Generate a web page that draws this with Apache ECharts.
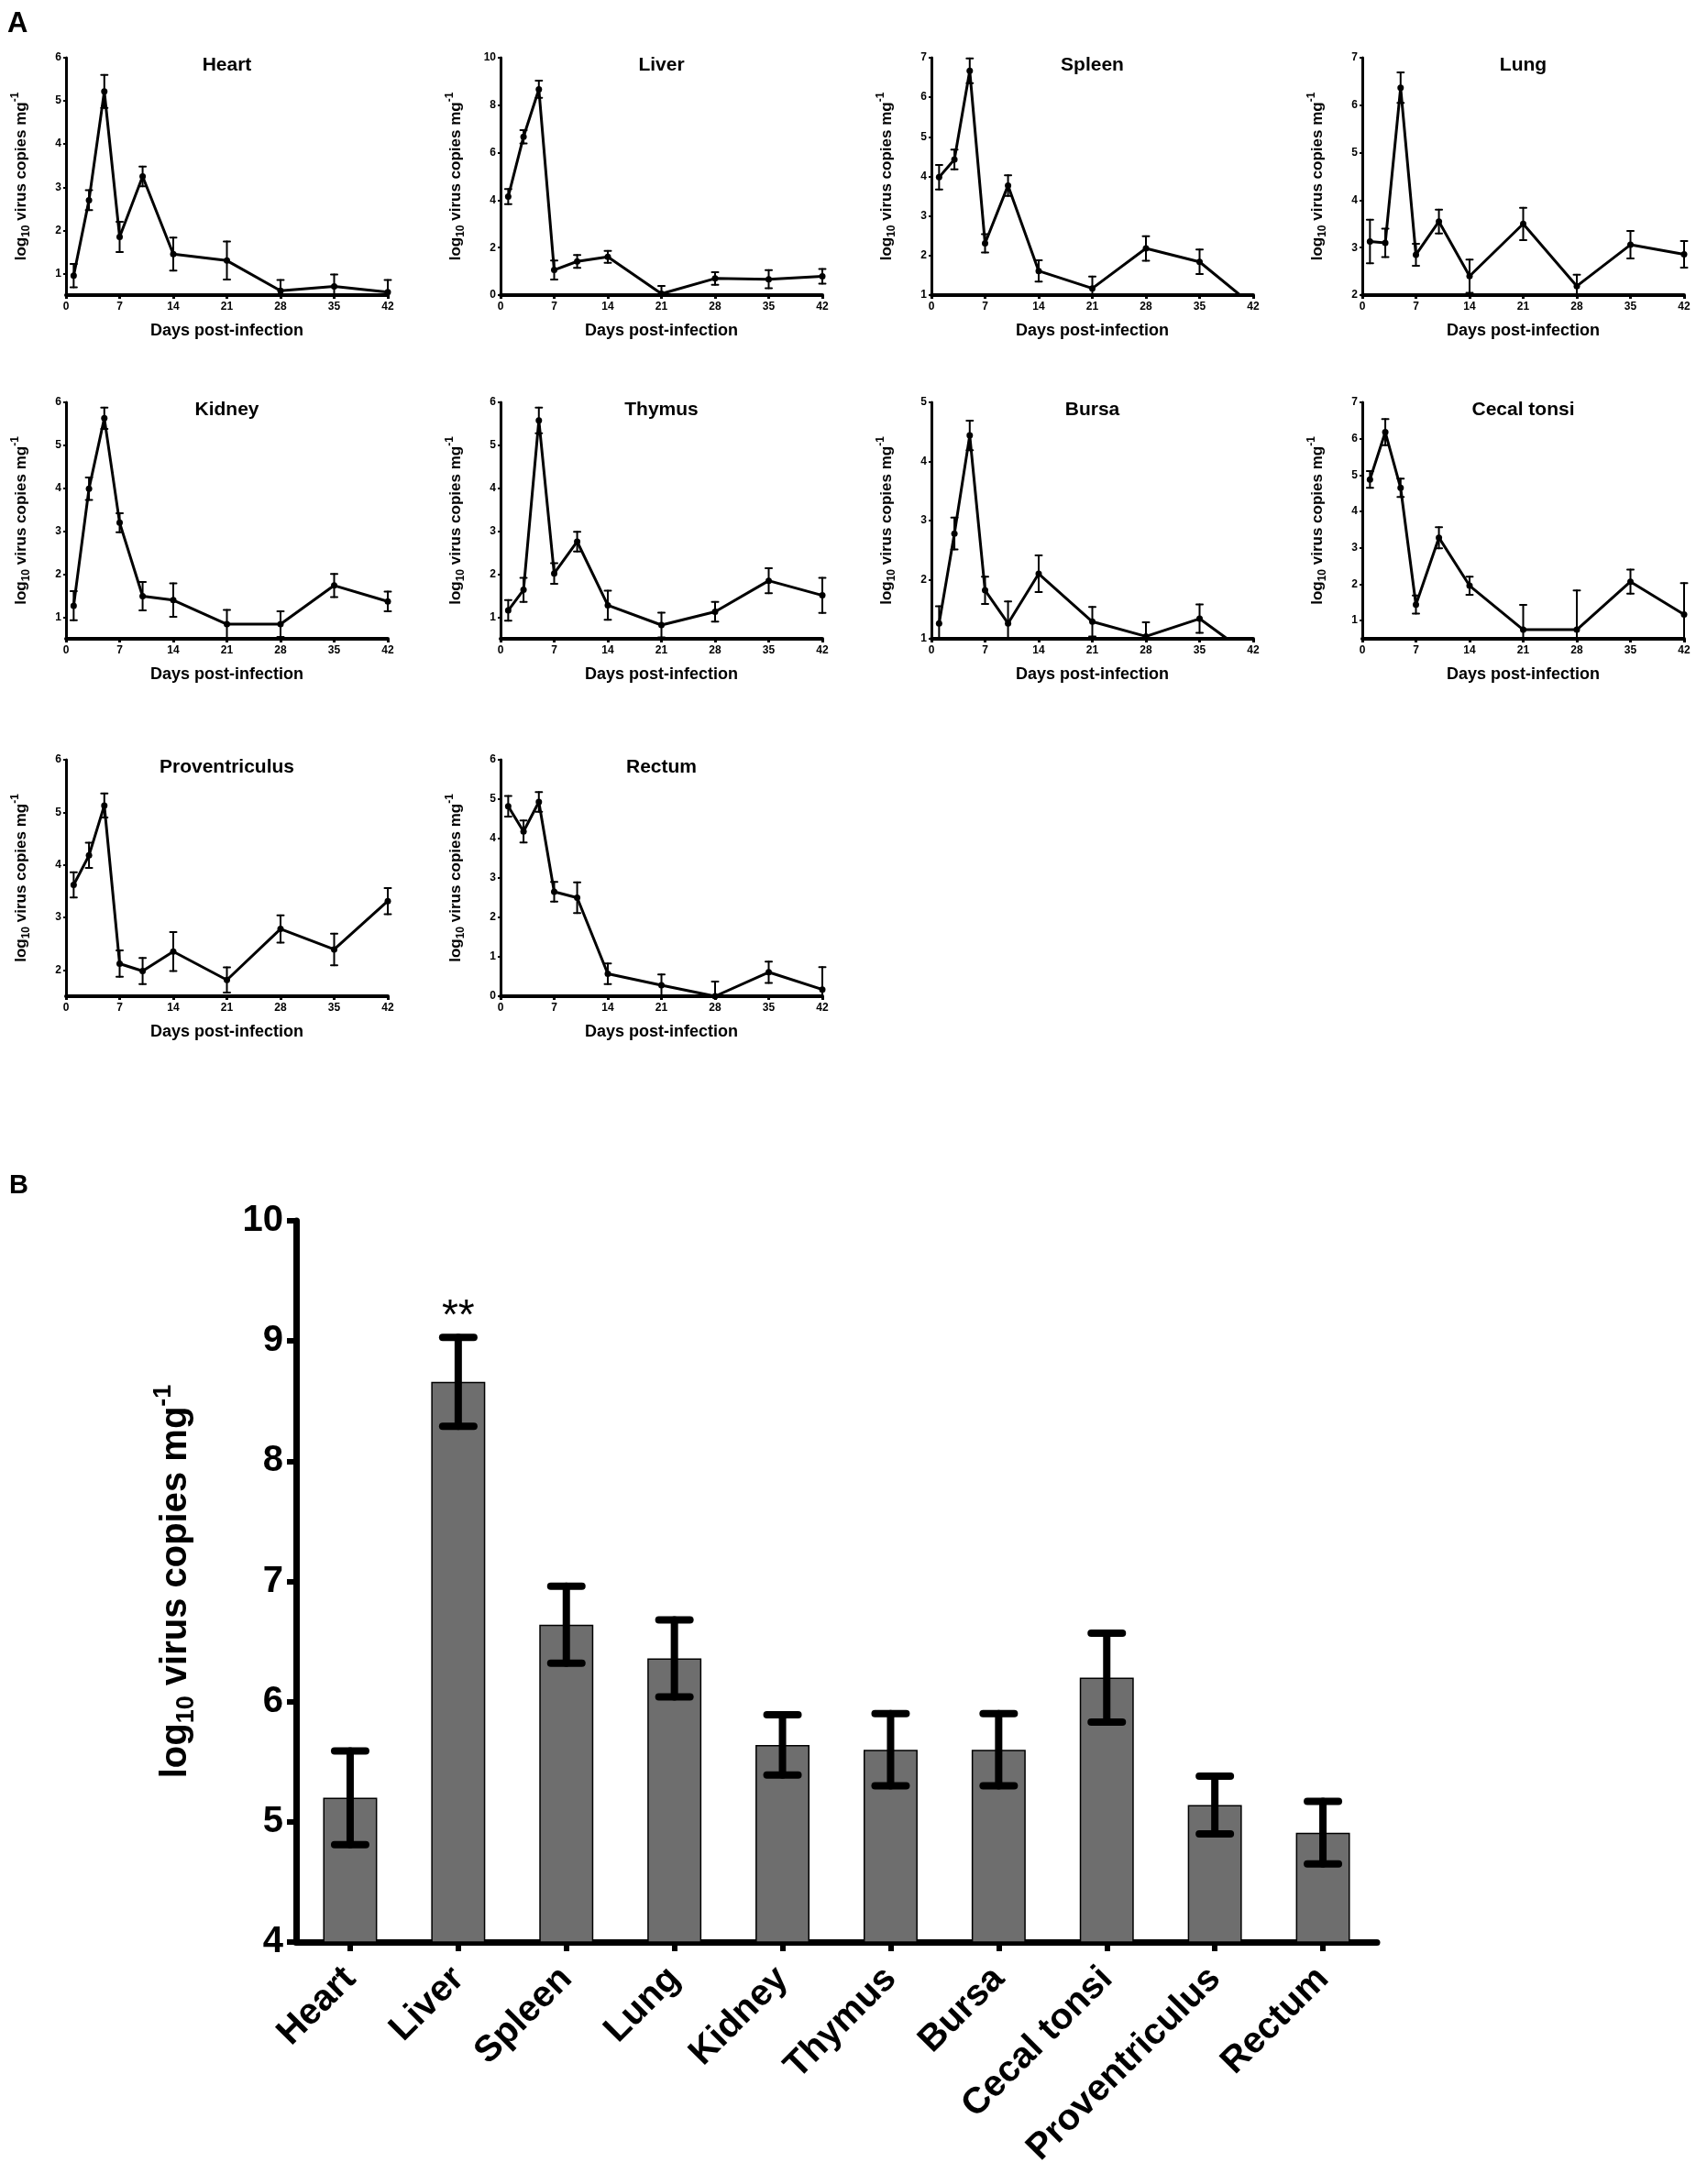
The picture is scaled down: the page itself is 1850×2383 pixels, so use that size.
<!DOCTYPE html>
<html>
<head>
<meta charset="utf-8">
<script src="https://cdn.jsdelivr.net/npm/echarts@6/dist/echarts.min.js"></script>
<style>
  html, body { margin: 0; padding: 0; background: #fff; }
  #chart { width: 1850px; height: 2383px; }
</style>
</head>
<body>
<div id="chart"></div>
<script>
// days sampled
const days = [1, 3, 5, 7, 10, 14, 21, 28, 35, 42];

// panel A: mean log10 copies and error per organ
const heartMean = [0.95, 2.7, 5.22, 1.85, 3.25, 1.45, 1.3, 0.6, 0.7, 0.57];
const heartErr = [0.27, 0.23, 0.38, 0.35, 0.23, 0.38, 0.44, 0.25, 0.28, 0.28];
const liverMean = [4.15, 6.67, 8.67, 1.06, 1.42, 1.61, 0.06, 0.7, 0.67, 0.79];
const liverErr = [0.32, 0.28, 0.36, 0.4, 0.27, 0.25, 0.33, 0.27, 0.38, 0.31];
const spleenMean = [3.98, 4.43, 6.67, 2.31, 3.77, 1.61, 1.17, 2.18, 1.84, 0.73];
const spleenErr = [0.31, 0.25, 0.31, 0.23, 0.26, 0.27, 0.3, 0.31, 0.31, 0.3];
const lungMean = [3.13, 3.1, 6.37, 2.85, 3.55, 2.4, 3.5, 2.19, 3.06, 2.86];
const lungErr = [0.46, 0.3, 0.32, 0.23, 0.25, 0.35, 0.34, 0.24, 0.29, 0.28];
const kidneyMean = [1.27, 3.99, 5.63, 3.2, 1.49, 1.4, 0.84, 0.84, 1.74, 1.37];
const kidneyErr = [0.34, 0.26, 0.25, 0.22, 0.33, 0.39, 0.33, 0.3, 0.27, 0.23];
const thymusMean = [1.16, 1.64, 5.58, 2.02, 2.76, 1.28, 0.82, 1.13, 1.85, 1.51];
const thymusErr = [0.24, 0.28, 0.3, 0.24, 0.23, 0.34, 0.29, 0.23, 0.29, 0.41];
const bursaMean = [1.26, 2.78, 4.44, 1.82, 1.26, 2.1, 1.29, 1.04, 1.34, 0.68];
const bursaErr = [0.29, 0.27, 0.25, 0.23, 0.37, 0.31, 0.25, 0.24, 0.24, 0.24];
const cecalMean = [4.88, 6.18, 4.65, 1.44, 3.28, 1.96, 0.75, 0.75, 2.07, 1.17];
const cecalErr = [0.23, 0.36, 0.25, 0.25, 0.29, 0.25, 0.68, 1.08, 0.33, 0.86];
const proventMean = [3.62, 4.18, 5.13, 2.12, 1.98, 2.35, 1.81, 2.78, 2.39, 3.31];
const proventErr = [0.24, 0.24, 0.23, 0.25, 0.25, 0.37, 0.24, 0.26, 0.3, 0.25];
const rectumMean = [4.82, 4.18, 4.93, 2.65, 2.5, 0.57, 0.28, 0.0, 0.61, 0.17];
const rectumErr = [0.26, 0.28, 0.25, 0.25, 0.39, 0.26, 0.27, 0.37, 0.27, 0.57];

// panel B: peak values per organ
const organs = ['Heart', 'Liver', 'Spleen', 'Lung', 'Kidney', 'Thymus', 'Bursa', 'Cecal tonsi', 'Proventriculus', 'Rectum'];
const barMean = [5.2, 8.66, 6.64, 6.36, 5.64, 5.6, 5.6, 6.2, 5.14, 4.91];
const barErr = [0.39, 0.37, 0.32, 0.32, 0.25, 0.3, 0.3, 0.37, 0.24, 0.26];
const barSig = ['', '**', '', '', '', '', '', '', '', ''];

const FONT = "'Liberation Sans', Arial, sans-serif";

// small multiples: title, data, y range [min, max, step], grid slot [col,row]
const panels = [
  { title: 'Heart', mean: heartMean, err: heartErr, y: [0.5, 6, 1], slot: [0, 0] },
  { title: 'Liver', mean: liverMean, err: liverErr, y: [0, 10, 2], slot: [1, 0] },
  { title: 'Spleen', mean: spleenMean, err: spleenErr, y: [1, 7, 1], slot: [2, 0] },
  { title: 'Lung', mean: lungMean, err: lungErr, y: [2, 7, 1], slot: [3, 0] },
  { title: 'Kidney', mean: kidneyMean, err: kidneyErr, y: [0.5, 6, 1], slot: [0, 1] },
  { title: 'Thymus', mean: thymusMean, err: thymusErr, y: [0.5, 6, 1], slot: [1, 1] },
  { title: 'Bursa', mean: bursaMean, err: bursaErr, y: [1, 5, 1], slot: [2, 1] },
  { title: 'Cecal tonsi', mean: cecalMean, err: cecalErr, y: [0.5, 7, 1], slot: [3, 1] },
  { title: 'Proventriculus', mean: proventMean, err: proventErr, y: [1.5, 6, 1], slot: [0, 2] },
  { title: 'Rectum', mean: rectumMean, err: rectumErr, y: [0, 6, 1], slot: [1, 2] }
];

const colLeft = [72, 546, 1016, 1486];
const rowTop = [63, 439, 829];
const gridW = 351, gridH = 259;

function yName(main, sub) {
  return {
    name: '{m|log}{s|10}{m| virus copies mg}{p|-1}',
    rich: {
      m: { fontSize: main, fontWeight: 'bold', fontFamily: FONT, color: '#000' },
      s: { fontSize: sub, fontWeight: 'bold', fontFamily: FONT, color: '#000', padding: [Math.round(sub * 0.9), 0, 0, 0] },
      p: { fontSize: sub, fontWeight: 'bold', fontFamily: FONT, color: '#000', padding: [0, 0, Math.round(sub * 1.0), 0] }
    }
  };
}

// error bars, cut by hand at the axis minimum
function errorBars(ymin, capHalf, lw, sig) {
  return function (params, api) {
    const x = api.value(0), m = api.value(1), e = api.value(2);
    if (m < ymin) return null;
    const lo = Math.max(m - e, ymin);
    const pHi = api.coord([x, m + e]);
    const pLo = api.coord([x, lo]);
    const st = { stroke: '#000', lineWidth: lw, lineCap: 'round' };
    const children = [
      { type: 'line', shape: { x1: pHi[0], y1: pHi[1], x2: pLo[0], y2: pLo[1] }, style: st },
      { type: 'line', shape: { x1: pHi[0] - capHalf, y1: pHi[1], x2: pHi[0] + capHalf, y2: pHi[1] }, style: st }
    ];
    if (m - e >= ymin) {
      children.push({ type: 'line', shape: { x1: pLo[0] - capHalf, y1: pLo[1], x2: pLo[0] + capHalf, y2: pLo[1] }, style: st });
    }
    if (sig && sig[params.dataIndex]) {
      children.push({
        type: 'text',
        style: { text: sig[params.dataIndex], x: pHi[0], y: pHi[1] - 22, align: 'center', verticalAlign: 'middle',
          font: "46px 'Liberation Sans', Arial, sans-serif", fill: '#000' }
      });
    }
    return { type: 'group', children: children };
  };
}

const grids = [], xAxes = [], yAxes = [], series = [], graphics = [];

panels.forEach((p, i) => {
  const left = colLeft[p.slot[0]], top = rowTop[p.slot[1]];
  const h = p.slot[1] === 0 ? gridH : 258;
  grids.push({ left: left, top: top, width: gridW, height: h });
  const ticks = [];
  for (let v = Math.ceil(p.y[0] / p.y[2]) * p.y[2]; v <= p.y[1] + 1e-9; v += p.y[2]) ticks.push(v);
  const yn = yName(17, 12);
  xAxes.push({
    gridIndex: i, type: 'value', min: 0, max: 42, interval: 7,
    axisLine: { show: true, onZero: false, lineStyle: { color: '#000', width: 4 } },
    axisTick: { show: true, length: 4, lineStyle: { color: '#000', width: 3 } },
    axisLabel: { margin: 7, fontSize: 12, fontWeight: 'bold', fontFamily: FONT, color: '#000' },
    splitLine: { show: false },
    name: 'Days post-infection', nameLocation: 'middle', nameGap: 30,
    nameTextStyle: { fontSize: 18, fontWeight: 'bold', fontFamily: FONT, color: '#000' }
  });
  yAxes.push({
    gridIndex: i, type: 'value', min: p.y[0], max: p.y[1],
    axisLine: { show: true, onZero: false, lineStyle: { color: '#000', width: 3 } },
    axisTick: { show: true, length: 3, customValues: ticks, lineStyle: { color: '#000', width: 2 } },
    axisLabel: { margin: 5, customValues: ticks, fontSize: 12, fontWeight: 'bold', fontFamily: FONT, color: '#000' },
    splitLine: { show: false },
    name: yn.name, nameLocation: 'middle', nameGap: 37, nameRotate: 90,
    nameTextStyle: { fontSize: 17, fontWeight: 'bold', fontFamily: FONT, color: '#000', rich: yn.rich }
  });
  series.push({
    type: 'custom', xAxisIndex: i, yAxisIndex: i, clip: false, z: 2,
    renderItem: errorBars(p.y[0], 3.5, 2),
    data: days.map((d, k) => [d, p.mean[k], p.err[k]])
  });
  series.push({
    type: 'line', xAxisIndex: i, yAxisIndex: i, clip: true, z: 3,
    symbol: 'circle', symbolSize: 7,
    itemStyle: { color: '#000' }, lineStyle: { color: '#000', width: 3 },
    data: days.map((d, k) => [d, p.mean[k]])
  });
  graphics.push({
    type: 'text', x: left + gridW / 2, y: top + 8,
    style: { text: p.title, align: 'center', verticalAlign: 'middle',
      font: "bold 21px 'Liberation Sans', Arial, sans-serif", fill: '#000' }
  });
});

// panel B
const bi = panels.length;
grids.push({ left: 323, top: 1332, width: 1179, height: 787 });
xAxes.push({
  gridIndex: bi, type: 'category', data: organs,
  axisLine: { show: true, lineStyle: { color: '#000', width: 7 } },
  axisTick: { show: true, alignWithLabel: true, length: 10, lineStyle: { color: '#000', width: 6 } },
  axisLabel: { rotate: 45, margin: 34, interval: 0, fontSize: 40, fontWeight: 'bold', fontFamily: FONT, color: '#000' }
});
const bn = yName(40, 27);
yAxes.push({
  gridIndex: bi, type: 'value', min: 4, max: 10, interval: 1,
  axisLine: { show: true, onZero: false, lineStyle: { color: '#000', width: 7 } },
  axisTick: { show: true, length: 10, lineStyle: { color: '#000', width: 6 } },
  axisLabel: { margin: 14, fontSize: 40, fontWeight: 'bold', fontFamily: FONT, color: '#000' },
  splitLine: { show: false },
  name: bn.name, nameLocation: 'middle', nameGap: 104, nameRotate: 90,
  nameTextStyle: { fontSize: 40, fontWeight: 'bold', fontFamily: FONT, color: '#000', rich: bn.rich }
});
series.push({
  type: 'bar', xAxisIndex: bi, yAxisIndex: bi, barWidth: '50%', z: 2,
  itemStyle: { color: '#6e6e6e', borderColor: '#000', borderWidth: 1.5 },
  data: barMean
});
series.push({
  type: 'custom', xAxisIndex: bi, yAxisIndex: bi, clip: false, z: 3,
  renderItem: errorBars(4, 17, 8, barSig),
  data: organs.map((o, k) => [k, barMean[k], barErr[k]])
});

graphics.push({ type: 'text', x: 8, y: 26,
  style: { text: 'A', verticalAlign: 'middle', font: "bold 31px 'Liberation Sans', Arial, sans-serif", fill: '#000' } });
graphics.push({ type: 'text', x: 10, y: 1294,
  style: { text: 'B', verticalAlign: 'middle', font: "bold 29px 'Liberation Sans', Arial, sans-serif", fill: '#000' } });

const chart = echarts.init(document.getElementById('chart'), null, { renderer: 'canvas' });
chart.setOption({
  backgroundColor: '#fff',
  animation: false,
  textStyle: { fontFamily: FONT },
  grid: grids,
  xAxis: xAxes,
  yAxis: yAxes,
  series: series,
  graphic: graphics
});
</script>
</body>
</html>
